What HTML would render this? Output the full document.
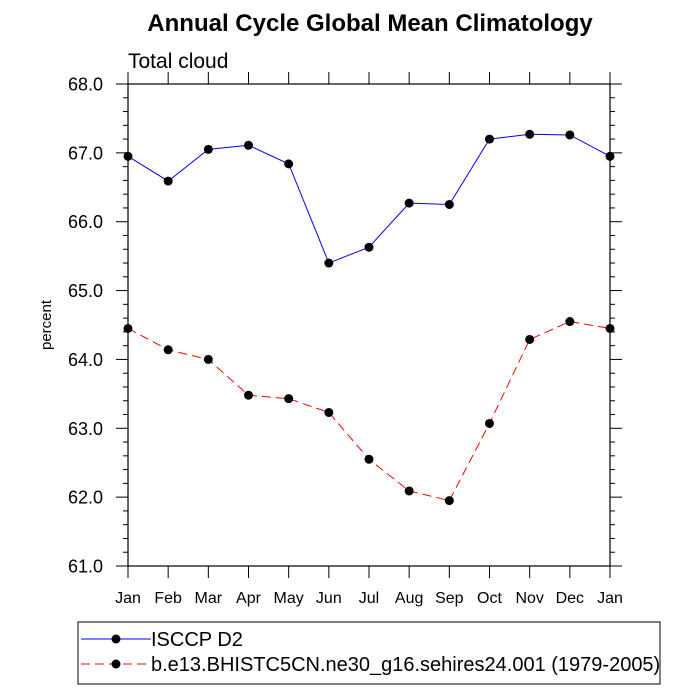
<!DOCTYPE html>
<html><head><meta charset="utf-8"><style>body{margin:0;background:#fff}svg{display:block;font-family:"Liberation Sans",sans-serif}</style></head>
<body>
<svg id="chart" width="700" height="700" xmlns="http://www.w3.org/2000/svg">
<text x="370" y="31" text-anchor="middle" font-size="24" font-weight="bold">Annual Cycle Global Mean Climatology</text>
<text x="128" y="68" font-size="21">Total cloud</text>
<text transform="translate(51,325) rotate(-90)" text-anchor="middle" font-size="15">percent</text>
<rect x="128" y="84" width="482" height="482" fill="none" stroke="#000" stroke-width="1.2"/>
<g id="axes"></g>
<g id="series"></g>
<g>
<rect x="78" y="622" width="582" height="62" fill="none" stroke="#000" stroke-width="1"/>
<line x1="81" y1="639" x2="151" y2="639" stroke="#00f" stroke-width="1"/>
<circle cx="116" cy="639" r="4.5" fill="#000"/>
<text x="151" y="646" font-size="20">ISCCP D2</text>
<line x1="81" y1="664" x2="151" y2="664" stroke="#f00" stroke-width="1" stroke-dasharray="9,5"/>
<circle cx="116" cy="664" r="4.5" fill="#000"/>
<text x="151" y="671" font-size="20">b.e13.BHISTC5CN.ne30_g16.sehires24.001 (1979-2005)</text>
</g>
</svg>
<script>
const months = ["Jan","Feb","Mar","Apr","May","Jun","Jul","Aug","Sep","Oct","Nov","Dec","Jan"];
const isccp = [66.95,66.59,67.05,67.11,66.84,65.40,65.63,66.27,66.25,67.20,67.27,67.26,66.95];
const model = [64.45,64.14,64.00,63.48,63.43,63.23,62.55,62.09,61.95,63.07,64.29,64.55,64.45];
const yTicks = [61,62,63,64,65,66,67,68];
const NS="http://www.w3.org/2000/svg";
const X0=128,X1=610,Y0=566,Y1=84,YMIN=61,YMAX=68;
const xs=i=>X0+(X1-X0)*i/(months.length-1);
const ys=v=>Y0-(Y0-Y1)*(v-YMIN)/(YMAX-YMIN);
function mk(tag,attrs,parent){const e=document.createElementNS(NS,tag);for(const k in attrs)e.setAttribute(k,attrs[k]);parent.appendChild(e);return e;}
const ax=document.getElementById('axes');
months.forEach((m,i)=>{
  const x=xs(i);
  const t=mk('line',{x1:x,x2:x,y1:Y0,y2:Y0+12,stroke:'#000'},ax);
  
  
  mk('line',{x1:x,x2:x,y1:Y1,y2:Y1-12,stroke:'#000'},ax);
  const l=mk('text',{x:x,y:603,'text-anchor':'middle','font-size':'16'},ax);
  l.textContent=m;
  
  
});
for(let v=YMIN;v<=YMAX+1e-9;v+=0.2){
  const y=ys(v);const major=Math.abs(v-Math.round(v))<1e-6;const len=major?12:5;
  mk('line',{x1:X0-len,x2:X0,y1:y,y2:y,stroke:'#000'},ax);
  mk('line',{x1:X1,x2:X1+len,y1:y,y2:y,stroke:'#000'},ax);
}
yTicks.forEach(v=>{
  const l=mk('text',{x:103,y:ys(v)+6.5,'text-anchor':'end','font-size':'18'},ax);
  l.textContent=v.toFixed(1);
  
  
});
const sg=document.getElementById('series');
function draw(vals,color,dash,name){
  const p=mk('polyline',{points:vals.map((v,i)=>xs(i)+','+ys(v)).join(' '),fill:'none',stroke:color,'stroke-width':1,'stroke-dasharray':dash},sg);
  
  
  vals.forEach((v,i)=>{
    const c=mk('circle',{cx:xs(i),cy:ys(v),r:4.5,fill:'#000'},sg);
    
    
  });
}
draw(isccp,'#00f','none','isccp');
draw(model,'#f00','9,5','model');
</script>
</body></html>
